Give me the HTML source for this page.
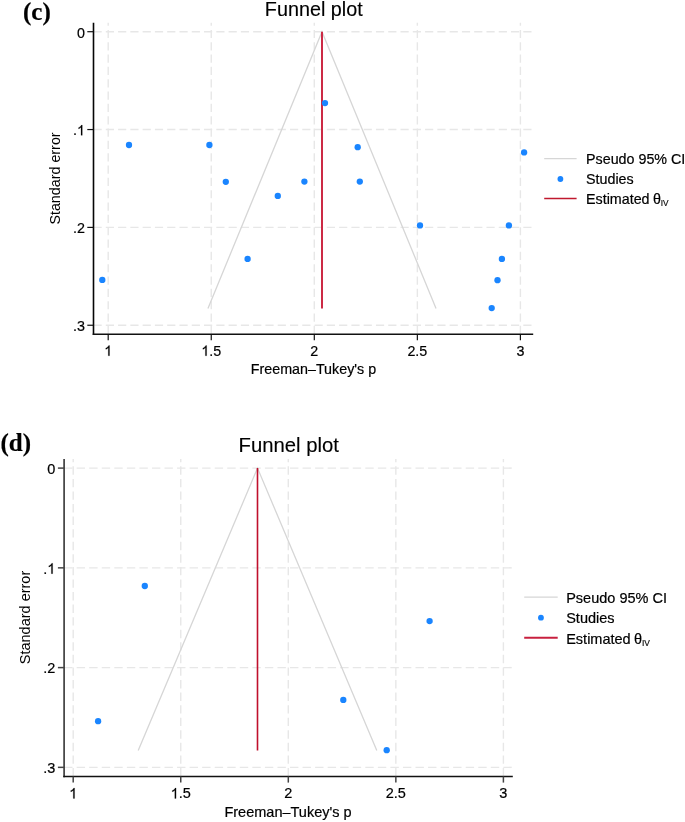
<!DOCTYPE html>
<html><head><meta charset="utf-8"><style>
html,body{margin:0;padding:0;background:#fff;}
svg{display:block;will-change:transform;}
text{font-family:"Liberation Sans",sans-serif;fill:#000;stroke:#000;stroke-width:0.2px;}
text.lab{font-family:"Liberation Serif",serif;font-weight:bold;fill:#000;}
</style></head><body>
<svg width="685" height="822" viewBox="0 0 685 822">
<rect width="685" height="822" fill="#fff"/>
<line x1="93.50" y1="31.70" x2="533.20" y2="31.70" stroke="#e7e7e7" stroke-width="1.4" stroke-dasharray="8.2 4.08"/>
<line x1="93.50" y1="129.55" x2="533.20" y2="129.55" stroke="#e7e7e7" stroke-width="1.4" stroke-dasharray="8.2 4.08"/>
<line x1="93.50" y1="227.40" x2="533.20" y2="227.40" stroke="#e7e7e7" stroke-width="1.4" stroke-dasharray="8.2 4.08"/>
<line x1="93.50" y1="325.25" x2="533.20" y2="325.25" stroke="#e7e7e7" stroke-width="1.4" stroke-dasharray="8.2 4.08"/>
<line x1="108.20" y1="334.00" x2="108.20" y2="22.70" stroke="#e7e7e7" stroke-width="1.4" stroke-dasharray="8.2 4.13"/>
<line x1="211.25" y1="334.00" x2="211.25" y2="22.70" stroke="#e7e7e7" stroke-width="1.4" stroke-dasharray="8.2 4.13"/>
<line x1="314.30" y1="334.00" x2="314.30" y2="22.70" stroke="#e7e7e7" stroke-width="1.4" stroke-dasharray="8.2 4.13"/>
<line x1="417.35" y1="334.00" x2="417.35" y2="22.70" stroke="#e7e7e7" stroke-width="1.4" stroke-dasharray="8.2 4.13"/>
<line x1="520.40" y1="334.00" x2="520.40" y2="22.70" stroke="#e7e7e7" stroke-width="1.4" stroke-dasharray="8.2 4.13"/>
<polyline points="207.95,308.40 322.00,31.70 436.05,308.40" fill="none" stroke="#d6d6d6" stroke-width="1.3" stroke-linejoin="miter"/>
<line x1="322.00" y1="31.70" x2="322.00" y2="308.40" stroke="#cc2a45" stroke-width="2.0"/>
<circle cx="102.30" cy="279.90" r="3.15" fill="#1a85ff"/>
<circle cx="129.00" cy="145.00" r="3.15" fill="#1a85ff"/>
<circle cx="209.40" cy="145.00" r="3.15" fill="#1a85ff"/>
<circle cx="225.80" cy="181.80" r="3.15" fill="#1a85ff"/>
<circle cx="247.60" cy="258.90" r="3.15" fill="#1a85ff"/>
<circle cx="277.80" cy="195.90" r="3.15" fill="#1a85ff"/>
<circle cx="304.40" cy="181.60" r="3.15" fill="#1a85ff"/>
<circle cx="325.00" cy="103.10" r="3.15" fill="#1a85ff"/>
<circle cx="357.70" cy="147.20" r="3.15" fill="#1a85ff"/>
<circle cx="359.80" cy="181.60" r="3.15" fill="#1a85ff"/>
<circle cx="420.00" cy="225.40" r="3.15" fill="#1a85ff"/>
<circle cx="508.90" cy="225.40" r="3.15" fill="#1a85ff"/>
<circle cx="524.10" cy="152.40" r="3.15" fill="#1a85ff"/>
<circle cx="501.90" cy="258.90" r="3.15" fill="#1a85ff"/>
<circle cx="497.50" cy="280.20" r="3.15" fill="#1a85ff"/>
<circle cx="491.70" cy="308.10" r="3.15" fill="#1a85ff"/>
<line x1="93.50" y1="22.70" x2="93.50" y2="334.95" stroke="#050505" stroke-width="1.6"/>
<line x1="92.70" y1="334.20" x2="533.20" y2="334.20" stroke="#111" stroke-width="1.5"/>
<line x1="87.30" y1="31.70" x2="93.50" y2="31.70" stroke="#111" stroke-width="1.2"/>
<text x="76.95" y="37.50" font-size="14.3">0</text>
<line x1="87.30" y1="129.55" x2="93.50" y2="129.55" stroke="#111" stroke-width="1.2"/>
<text x="72.97" y="135.35" font-size="14.3">.</text><path d="M763 0L583 0L583 1147Q518 1085 412 1023Q306 961 223 930L223 1104Q372 1174 484 1274Q596 1374 643 1468L763 1468Z" transform="translate(76.95,135.35) scale(0.00698,-0.00698)" fill="#000" stroke="#000" stroke-width="28.6"/>
<line x1="87.30" y1="227.40" x2="93.50" y2="227.40" stroke="#111" stroke-width="1.2"/>
<text x="72.97" y="233.20" font-size="14.3">.2</text>
<line x1="87.30" y1="325.25" x2="93.50" y2="325.25" stroke="#111" stroke-width="1.2"/>
<text x="72.97" y="331.05" font-size="14.3">.3</text>
<line x1="108.20" y1="334.00" x2="108.20" y2="340.20" stroke="#111" stroke-width="1.2"/>
<path d="M763 0L583 0L583 1147Q518 1085 412 1023Q306 961 223 930L223 1104Q372 1174 484 1274Q596 1374 643 1468L763 1468Z" transform="translate(104.22,355.80) scale(0.00698,-0.00698)" fill="#000" stroke="#000" stroke-width="28.6"/>
<line x1="211.25" y1="334.00" x2="211.25" y2="340.20" stroke="#111" stroke-width="1.2"/>
<path d="M763 0L583 0L583 1147Q518 1085 412 1023Q306 961 223 930L223 1104Q372 1174 484 1274Q596 1374 643 1468L763 1468Z" transform="translate(201.31,355.80) scale(0.00698,-0.00698)" fill="#000" stroke="#000" stroke-width="28.6"/><text x="209.26" y="355.80" font-size="14.3">.5</text>
<line x1="314.30" y1="334.00" x2="314.30" y2="340.20" stroke="#111" stroke-width="1.2"/>
<text x="310.32" y="355.80" font-size="14.3">2</text>
<line x1="417.35" y1="334.00" x2="417.35" y2="340.20" stroke="#111" stroke-width="1.2"/>
<text x="407.41" y="355.80" font-size="14.3">2.5</text>
<line x1="520.40" y1="334.00" x2="520.40" y2="340.20" stroke="#111" stroke-width="1.2"/>
<text x="516.42" y="355.80" font-size="14.3">3</text>
<text x="313.45" y="373.80" text-anchor="middle" font-size="14.3">Freeman–Tukey's p</text>
<text x="0" y="0" transform="translate(59.50,178.50) rotate(-90)" text-anchor="middle" font-size="14.3" style="stroke-width:0">Standard error</text>
<text x="313.80" y="15.80" text-anchor="middle" font-size="19.8" style="stroke-width:0.12px">Funnel plot</text>
<text x="23.00" y="20.20" class="lab" font-size="25">(c)</text>
<line x1="544.2" y1="158.6" x2="576.6" y2="158.6" stroke="#d6d6d6" stroke-width="1.3"/>
<circle cx="560.40" cy="179.0" r="2.9" fill="#1a85ff"/>
<line x1="544.2" y1="198.5" x2="576.6" y2="198.5" stroke="#c0182e" stroke-width="1.6"/>
<text x="586.0" y="163.7" font-size="14.3">Pseudo 95% CI</text>
<text x="586.0" y="183.9" font-size="14.3">Studies</text>
<text x="586.0" y="203.9" font-size="14.3">Estimated<tspan dx="-0.6">&#160;θ</tspan><tspan font-size="8.29" dx="-0.2" dy="1.8" style="stroke-width:0.15px">IV</tspan></text>
<line x1="64.10" y1="468.10" x2="512.80" y2="468.10" stroke="#e7e7e7" stroke-width="1.4" stroke-dasharray="8.4 4.15"/>
<line x1="64.10" y1="567.85" x2="512.80" y2="567.85" stroke="#e7e7e7" stroke-width="1.4" stroke-dasharray="8.4 4.15"/>
<line x1="64.10" y1="667.60" x2="512.80" y2="667.60" stroke="#e7e7e7" stroke-width="1.4" stroke-dasharray="8.4 4.15"/>
<line x1="64.10" y1="767.35" x2="512.80" y2="767.35" stroke="#e7e7e7" stroke-width="1.4" stroke-dasharray="8.4 4.15"/>
<line x1="73.20" y1="776.40" x2="73.20" y2="459.00" stroke="#e7e7e7" stroke-width="1.4" stroke-dasharray="8.4 4.17"/>
<line x1="180.75" y1="776.40" x2="180.75" y2="459.00" stroke="#e7e7e7" stroke-width="1.4" stroke-dasharray="8.4 4.17"/>
<line x1="288.30" y1="776.40" x2="288.30" y2="459.00" stroke="#e7e7e7" stroke-width="1.4" stroke-dasharray="8.4 4.17"/>
<line x1="395.85" y1="776.40" x2="395.85" y2="459.00" stroke="#e7e7e7" stroke-width="1.4" stroke-dasharray="8.4 4.17"/>
<line x1="503.40" y1="776.40" x2="503.40" y2="459.00" stroke="#e7e7e7" stroke-width="1.4" stroke-dasharray="8.4 4.17"/>
<polyline points="138.20,750.40 257.50,468.10 376.80,750.40" fill="none" stroke="#d6d6d6" stroke-width="1.3" stroke-linejoin="miter"/>
<line x1="257.50" y1="468.10" x2="257.50" y2="750.40" stroke="#c0102c" stroke-width="1.6"/>
<circle cx="144.80" cy="586.00" r="3.15" fill="#1a85ff"/>
<circle cx="98.10" cy="721.20" r="3.15" fill="#1a85ff"/>
<circle cx="429.60" cy="621.10" r="3.15" fill="#1a85ff"/>
<circle cx="343.30" cy="699.90" r="3.15" fill="#1a85ff"/>
<circle cx="386.70" cy="750.20" r="3.15" fill="#1a85ff"/>
<line x1="64.10" y1="459.00" x2="64.10" y2="777.15" stroke="#404040" stroke-width="1.7"/>
<line x1="63.25" y1="776.50" x2="512.80" y2="776.50" stroke="#111" stroke-width="1.3"/>
<line x1="57.90" y1="468.10" x2="64.10" y2="468.10" stroke="#444" stroke-width="1.5"/>
<text x="47.24" y="473.90" font-size="14.5">0</text>
<line x1="57.90" y1="567.85" x2="64.10" y2="567.85" stroke="#444" stroke-width="1.5"/>
<text x="43.21" y="573.65" font-size="14.5">.</text><path d="M763 0L583 0L583 1147Q518 1085 412 1023Q306 961 223 930L223 1104Q372 1174 484 1274Q596 1374 643 1468L763 1468Z" transform="translate(47.24,573.65) scale(0.00708,-0.00708)" fill="#000" stroke="#000" stroke-width="28.2"/>
<line x1="57.90" y1="667.60" x2="64.10" y2="667.60" stroke="#444" stroke-width="1.5"/>
<text x="43.21" y="673.40" font-size="14.5">.2</text>
<line x1="57.90" y1="767.35" x2="64.10" y2="767.35" stroke="#444" stroke-width="1.5"/>
<text x="43.21" y="773.15" font-size="14.5">.3</text>
<line x1="73.20" y1="776.40" x2="73.20" y2="782.60" stroke="#444" stroke-width="1.5"/>
<path d="M763 0L583 0L583 1147Q518 1085 412 1023Q306 961 223 930L223 1104Q372 1174 484 1274Q596 1374 643 1468L763 1468Z" transform="translate(69.17,798.40) scale(0.00708,-0.00708)" fill="#000" stroke="#000" stroke-width="28.2"/>
<line x1="180.75" y1="776.40" x2="180.75" y2="782.60" stroke="#444" stroke-width="1.5"/>
<path d="M763 0L583 0L583 1147Q518 1085 412 1023Q306 961 223 930L223 1104Q372 1174 484 1274Q596 1374 643 1468L763 1468Z" transform="translate(170.67,798.40) scale(0.00708,-0.00708)" fill="#000" stroke="#000" stroke-width="28.2"/><text x="178.74" y="798.40" font-size="14.5">.5</text>
<line x1="288.30" y1="776.40" x2="288.30" y2="782.60" stroke="#444" stroke-width="1.5"/>
<text x="284.27" y="798.40" font-size="14.5">2</text>
<line x1="395.85" y1="776.40" x2="395.85" y2="782.60" stroke="#444" stroke-width="1.5"/>
<text x="385.77" y="798.40" font-size="14.5">2.5</text>
<line x1="503.40" y1="776.40" x2="503.40" y2="782.60" stroke="#444" stroke-width="1.5"/>
<text x="499.37" y="798.40" font-size="14.5">3</text>
<text x="288.00" y="816.50" text-anchor="middle" font-size="14.5">Freeman–Tukey's p</text>
<text x="0" y="0" transform="translate(29.50,617.50) rotate(-90)" text-anchor="middle" font-size="14.5" style="stroke-width:0">Standard error</text>
<text x="288.75" y="451.60" text-anchor="middle" font-size="20.3" style="stroke-width:0.12px">Funnel plot</text>
<text x="0.50" y="451.00" class="lab" font-size="25">(d)</text>
<line x1="524.2" y1="597.1" x2="557.7" y2="597.1" stroke="#d6d6d6" stroke-width="1.3"/>
<circle cx="540.95" cy="617.7" r="2.9" fill="#1a85ff"/>
<line x1="524.2" y1="637.8" x2="557.7" y2="637.8" stroke="#c8203f" stroke-width="1.9"/>
<text x="566.2" y="603.1" font-size="14.5">Pseudo 95% CI</text>
<text x="566.2" y="623.0" font-size="14.5">Studies</text>
<text x="566.2" y="644.1" font-size="14.5">Estimated<tspan dx="-0.6">&#160;θ</tspan><tspan font-size="8.41" dx="-0.2" dy="1.8" style="stroke-width:0.15px">IV</tspan></text>
</svg>
</body></html>
